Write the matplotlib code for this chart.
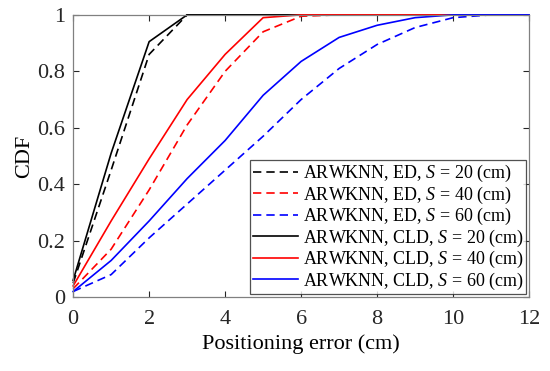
import numpy as np
import matplotlib
matplotlib.use("Agg")
import matplotlib.pyplot as plt

# ---------------------------------------------------------------------------
# Data
# ---------------------------------------------------------------------------

err = [0, 1, 2, 3, 4, 5, 6, 7, 8, 9, 10, 11, 12]

ed_20 = [0.05, 0.45, 0.86, 1.0, 1.0, 1.0, 1.0, 1.0, 1.0, 1.0, 1.0, 1.0, 1.0]
ed_40 = [0.03, 0.17, 0.38, 0.61, 0.80, 0.94, 0.995, 1.0, 1.0, 1.0, 1.0, 1.0, 1.0]
ed_60 = [0.02, 0.08, 0.21, 0.33, 0.45, 0.57, 0.70, 0.81, 0.895, 0.955, 0.99, 1.0, 1.0]

cld_20 = [0.06, 0.51, 0.905, 1.0, 1.0, 1.0, 1.0, 1.0, 1.0, 1.0, 1.0, 1.0, 1.0]
cld_40 = [0.04, 0.27, 0.49, 0.70, 0.86, 0.99, 1.0, 1.0, 1.0, 1.0, 1.0, 1.0, 1.0]
cld_60 = [0.02, 0.13, 0.27, 0.42, 0.555, 0.715, 0.835, 0.92, 0.963, 0.99, 1.0, 1.0, 1.0]

series = [
    (ed_20, 'k', '--', 'ED', 20),
    (ed_40, 'r', '--', 'ED', 40),
    (ed_60, 'b', '--', 'ED', 60),
    (cld_20, 'k', '-', 'CLD', 20),
    (cld_40, 'r', '-', 'CLD', 40),
    (cld_60, 'b', '-', 'CLD', 60),
]

plt.rcParams['font.family'] = ['Liberation Serif', 'DejaVu Serif']
plt.rcParams['mathtext.fontset'] = 'custom'
plt.rcParams['mathtext.it'] = 'Liberation Serif:italic'
plt.rcParams['mathtext.rm'] = 'Liberation Serif'

fig = plt.figure(figsize=(5.5, 3.71), dpi=100)
ax = fig.add_axes([0.133, 0.199, 0.829, 0.761])

for vals, col, ls, kind, s in series:
    ax.plot(err, vals, color=col, linestyle=ls, linewidth=1.2,
            dashes=(5, 3) if ls == '--' else (None, None), clip_on=False,
            label=f'ARWKNN, {kind}, $S$ = {s} (cm)')

ax.set_xlim(0, 12)
ax.set_ylim(0, 1)
ax.set_xticks(range(0, 13, 2))
ax.set_yticks([0, 0.2, 0.4, 0.6, 0.8, 1])
ax.set_yticklabels(['0', '0.2', '0.4', '0.6', '0.8', '1'])
ax.tick_params(direction='in', labelsize=16, length=4, colors='#262626',
               top=True, right=True)
ax.tick_params(axis='x', pad=9)
ax.tick_params(axis='y', pad=6)
for sp in ax.spines.values():
    sp.set_color('#808080')
    sp.set_linewidth(0.9)

ax.set_xlabel('Positioning error (cm)', fontsize=16, labelpad=4)
ax.set_ylabel('CDF', fontsize=16, labelpad=2)

leg = ax.legend(loc='lower right', fontsize=13, frameon=True, fancybox=False,
                handlelength=2.5, handletextpad=0.25, labelspacing=0.02,
                borderpad=0.15, borderaxespad=0.15)
leg.get_frame().set_edgecolor('#262626')
leg.get_frame().set_linewidth(0.9)

fig.savefig('out.png', dpi=100)
